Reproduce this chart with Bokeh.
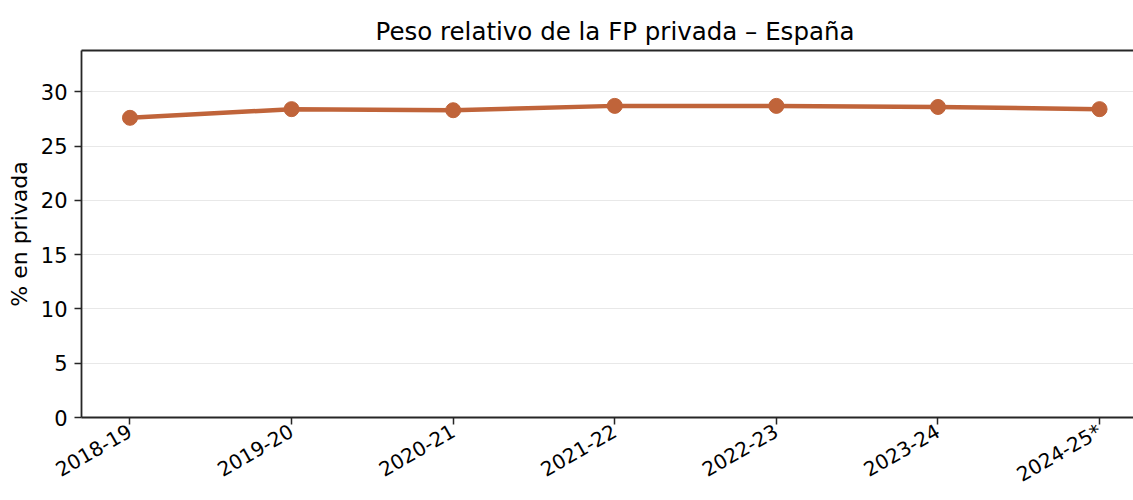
import math
from bokeh.plotting import figure
from bokeh.models import Range1d, FixedTicker, LinearAxis, Title, CustomLabelingPolicy
from bokeh.embed import file_html
from bokeh.resources import INLINE

# Data
cursos = ["2018-19", "2019-20", "2020-21", "2021-22", "2022-23", "2023-24", "2024-25*"]
pct_privada = [27.6, 28.4, 28.3, 28.7, 28.7, 28.6, 28.4]
y_ticks = [0, 5, 10, 15, 20, 25, 30]

COLOR = "#C0643A"
FONT = "DejaVu Sans"
SPINE = "#262626"

W = 1133
LEFT = 81
X0, X1 = -0.3, 6.21

xs = list(range(len(cursos)))

p = figure(width=W, height=500, output_backend="svg", toolbar_location=None,
           x_range=Range1d(X0, X1), y_range=Range1d(0, 33.8),
           min_border_left=LEFT, min_border_right=0, min_border_top=50,
           min_border_bottom=80, x_axis_location=None, y_axis_location=None)

p.title = Title(text="Peso relativo de la FP privada \u2013 Espa\u00f1a", align="left",
                text_font=FONT, text_font_size="24.5px", text_font_style="normal",
                text_color="#000000", offset=294, standoff=10)

p.outline_line_color = None
p.background_fill_color = "white"
p.border_fill_color = "white"

xaxis = LinearAxis(ticker=FixedTicker(ticks=xs),
                   major_label_overrides={i: c for i, c in enumerate(cursos)})
xaxis.major_label_orientation = math.pi / 6
xaxis.major_label_standoff = 5
xaxis.major_label_text_font_size = "20px"
yaxis = LinearAxis(ticker=FixedTicker(ticks=y_ticks), axis_label="% en privada")
yaxis.major_label_standoff = 7
yaxis.major_label_text_font_size = "21px"
yaxis.axis_label_text_font = FONT
yaxis.axis_label_text_font_size = "22px"
yaxis.axis_label_text_font_style = "normal"
yaxis.axis_label_text_color = "#000000"
yaxis.axis_label_standoff = 6

for ax in (xaxis, yaxis):
    ax.axis_line_color = SPINE
    ax.axis_line_width = 1.8
    ax.major_tick_line_color = SPINE
    ax.major_tick_line_width = 1.5
    ax.major_tick_out = 7
    ax.major_tick_in = 0
    ax.minor_tick_line_color = None
    ax.major_label_text_font = FONT
    ax.major_label_text_color = "#000000"

p.add_layout(xaxis, "below")
p.add_layout(yaxis, "left")

# top spine
top = LinearAxis(ticker=FixedTicker(ticks=[]), axis_line_color=SPINE, axis_line_width=1.8,
                 major_tick_line_color=None, minor_tick_line_color=None,
                 major_label_policy=CustomLabelingPolicy(code="return []"))
p.add_layout(top, "above")

p.xgrid.visible = False
p.ygrid.ticker = FixedTicker(ticks=y_ticks)
p.ygrid.grid_line_color = "#e8e8e8"
p.ygrid.grid_line_width = 1

p.line(xs, pct_privada, line_color=COLOR, line_width=4.5)
p.scatter(xs, pct_privada, size=15, fill_color=COLOR, line_color=COLOR)

open("out.html", "w").write(file_html(p, INLINE))
